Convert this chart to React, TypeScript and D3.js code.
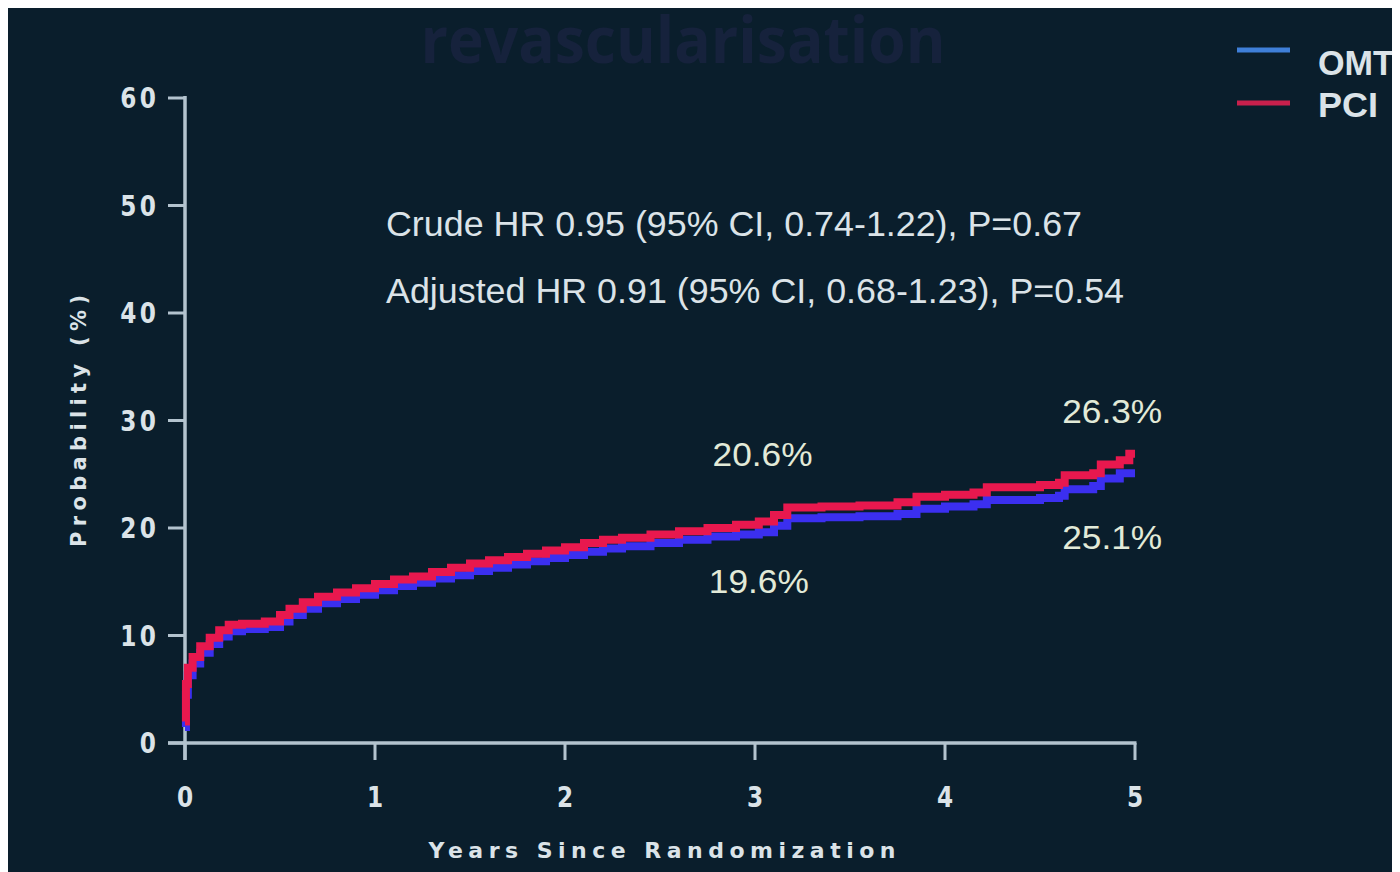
import React from "react";
import * as d3 from "d3";

const TITLE = "revascularisation";
const X_TICKS = [0, 1, 2, 3, 4, 5];
const Y_TICKS = [0, 10, 20, 30, 40, 50, 60];
const X_LABEL = "Years Since Randomization";
const Y_LABEL = "Probability (%)";
const STATS = [
  "Crude HR 0.95 (95% CI, 0.74-1.22), P=0.67",
  "Adjusted HR 0.91 (95% CI, 0.68-1.23), P=0.54",
];

const PCI_T = [0, 0.005, 0.015, 0.04, 0.08, 0.13, 0.18, 0.23, 0.3, 0.42, 0.5, 0.55, 0.62, 0.7, 0.8, 0.9, 1.0, 1.1, 1.2, 1.3, 1.4, 1.5, 1.6, 1.7, 1.8, 1.9, 2.0, 2.1, 2.2, 2.3, 2.45, 2.6, 2.75, 2.9, 3.02, 3.1, 3.17, 3.35, 3.55, 3.75, 3.85, 4.0, 4.15, 4.22, 4.5, 4.6, 4.63, 4.78, 4.82, 4.92, 4.97, 5.0];
const PCI_V = [2.0, 5.5, 7.0, 8.0, 9.0, 9.8, 10.5, 11.0, 11.1, 11.3, 11.9, 12.5, 13.1, 13.6, 14.0, 14.4, 14.8, 15.2, 15.5, 15.9, 16.3, 16.7, 17.0, 17.3, 17.6, 17.9, 18.2, 18.6, 18.9, 19.1, 19.4, 19.7, 20.0, 20.3, 20.6, 21.2, 21.9, 22.0, 22.1, 22.4, 22.9, 23.1, 23.3, 23.8, 24.0, 24.2, 24.9, 25.1, 25.9, 26.3, 26.9, 26.9];

const OMT_T = [0, 0.005, 0.015, 0.04, 0.08, 0.13, 0.18, 0.23, 0.3, 0.42, 0.5, 0.55, 0.62, 0.7, 0.8, 0.9, 1.0, 1.1, 1.2, 1.3, 1.4, 1.5, 1.6, 1.7, 1.8, 1.9, 2.0, 2.1, 2.2, 2.3, 2.45, 2.6, 2.75, 2.9, 3.02, 3.1, 3.17, 3.35, 3.55, 3.75, 3.85, 4.0, 4.15, 4.22, 4.5, 4.6, 4.63, 4.78, 4.82, 4.92, 5.0];
const OMT_V = [1.5, 4.5, 6.3, 7.4, 8.4, 9.2, 9.9, 10.4, 10.6, 10.8, 11.3, 11.9, 12.5, 13.0, 13.4, 13.8, 14.2, 14.6, 14.9, 15.3, 15.6, 16.0, 16.3, 16.6, 16.9, 17.2, 17.5, 17.8, 18.1, 18.3, 18.6, 18.9, 19.2, 19.4, 19.6, 20.2, 20.9, 21.0, 21.1, 21.3, 21.8, 22.0, 22.2, 22.6, 22.8, 23.0, 23.6, 23.9, 24.6, 25.1, 25.1];

const SERIES = ["OMT", "PCI"];
const LABELS = [
  { text: "20.6%", t: 3.04, v: 26.9 },
  { text: "19.6%", t: 3.02, v: 15.1 },
  { text: "26.3%", t: 4.88, v: 30.9 },
  { text: "25.1%", t: 4.88, v: 19.2 },
];

const BG = "#0a1e2c";
const AXIS = "#b3c3ce";
const TEXT = "#dbe3e8";
const PCT = "#e2ead8";
const OMT_COLOR = "#3b2ff0";
const PCI_COLOR = "#e8184e";
const OMT_LEG = "#3f7fd8";
const PCI_LEG = "#c8204c";

export default function App() {
  const x = d3.scaleLinear().domain([0, 5]).range([185, 1135]);
  const y = d3.scaleLinear().domain([0, 60]).range([743, 98]);
  const line = d3
    .line<[number, number]>()
    .x((d) => x(d[0]))
    .y((d) => y(d[1]))
    .curve(d3.curveStepAfter);
  const omt: [number, number][] = OMT_T.map((t, i) => [t, OMT_V[i]]);
  const pci: [number, number][] = PCI_T.map((t, i) => [t, PCI_V[i]]);
  const sans = "'Liberation Sans', Arial, sans-serif";
  const bold = "'DejaVu Sans', sans-serif";

  return (
    <svg width={1392} height={864} style={{ display: "block" }}>
      <g transform="translate(-8,-8)">
        <rect x={8} y={8} width={1392} height={864} fill={BG} />
        <text
          x={683}
          y={63}
          textAnchor="middle"
          fontFamily="'Open Sans', sans-serif"
          fontWeight={700}
          fontSize={64}
          fill="#16223c"
          textLength={525}
          lengthAdjust="spacingAndGlyphs"
        >
          {TITLE}
        </text>

        {/* axes */}
        <line x1={x(0)} x2={x(0)} y1={y(60) - 2} y2={y(0) + 17} stroke={AXIS} strokeWidth={3.5} />
        <line x1={x(0) - 17} x2={x(5) + 1.5} y1={y(0)} y2={y(0)} stroke={AXIS} strokeWidth={3.5} />
        {Y_TICKS.map((v) => (
          <g key={"y" + v}>
            <line x1={x(0) - 17} x2={x(0)} y1={y(v)} y2={y(v)} stroke={AXIS} strokeWidth={3} />
            <text
              x={159}
              y={y(v)}
              dy="0.36em"
              textAnchor="end"
              fontFamily={bold}
              fontWeight={700}
              fontSize={29}
              letterSpacing={4}
              fill={TEXT}
              transform={`translate(159,${y(v)}) scale(0.8,1) translate(-159,${-y(v)})`}
            >
              {v}
            </text>
          </g>
        ))}
        {X_TICKS.map((t) => (
          <g key={"x" + t}>
            <line x1={x(t)} x2={x(t)} y1={y(0)} y2={y(0) + 17} stroke={AXIS} strokeWidth={3} />
            <text
              x={x(t)}
              y={797}
              dy="0.36em"
              textAnchor="middle"
              fontFamily={bold}
              fontWeight={700}
              fontSize={29}
              fill={TEXT}
              transform={`translate(${x(t)},797) scale(0.8,1) translate(${-x(t)},-797)`}
            >
              {t}
            </text>
          </g>
        ))}
        <text
          x={662}
          y={858}
          textAnchor="middle"
          fontFamily={bold}
          fontWeight={700}
          fontSize={22}
          fill={TEXT}
          textLength={467}
          lengthAdjust="spacing"
        >
          {X_LABEL}
        </text>
        <text
          transform="translate(86,421) rotate(-90)"
          textAnchor="middle"
          fontFamily={bold}
          fontWeight={700}
          fontSize={21}
          fill={TEXT}
          textLength={252}
          lengthAdjust="spacing"
        >
          {Y_LABEL}
        </text>

        {/* stats */}
        {STATS.map((s, i) => (
          <text
            key={s}
            x={386}
            y={236 + i * 67}
            fontFamily={sans}
            fontSize={35}
            fill={TEXT}
            textLength={i === 0 ? 696 : 738}
            lengthAdjust="spacingAndGlyphs"
          >
            {s}
          </text>
        ))}

        {/* curves */}
        <path d={line(omt) || ""} fill="none" stroke={OMT_COLOR} strokeWidth={8} />
        <path d={line(pci) || ""} fill="none" stroke={PCI_COLOR} strokeWidth={8} />

        {LABELS.map((l) => (
          <text
            key={l.text}
            x={x(l.t)}
            y={y(l.v)}
            dy="0.36em"
            textAnchor="middle"
            fontFamily={sans}
            fontSize={34}
            fill={PCT}
            textLength={100}
            lengthAdjust="spacingAndGlyphs"
          >
            {l.text}
          </text>
        ))}

        {/* legend */}
        {SERIES.map((s, i) => (
          <g key={s}>
            <line
              x1={1237}
              x2={1290}
              y1={i === 0 ? 50 : 103}
              y2={i === 0 ? 50 : 103}
              stroke={i === 0 ? OMT_LEG : PCI_LEG}
              strokeWidth={5}
            />
            <text
              x={1318}
              y={i === 0 ? 62 : 104}
              dy="0.36em"
              fontFamily={sans}
              fontWeight={700}
              fontSize={35}
              fill={TEXT}
              textLength={i === 0 ? 76 : 60}
              lengthAdjust="spacingAndGlyphs"
            >
              {s}
            </text>
          </g>
        ))}
      </g>
    </svg>
  );
}
